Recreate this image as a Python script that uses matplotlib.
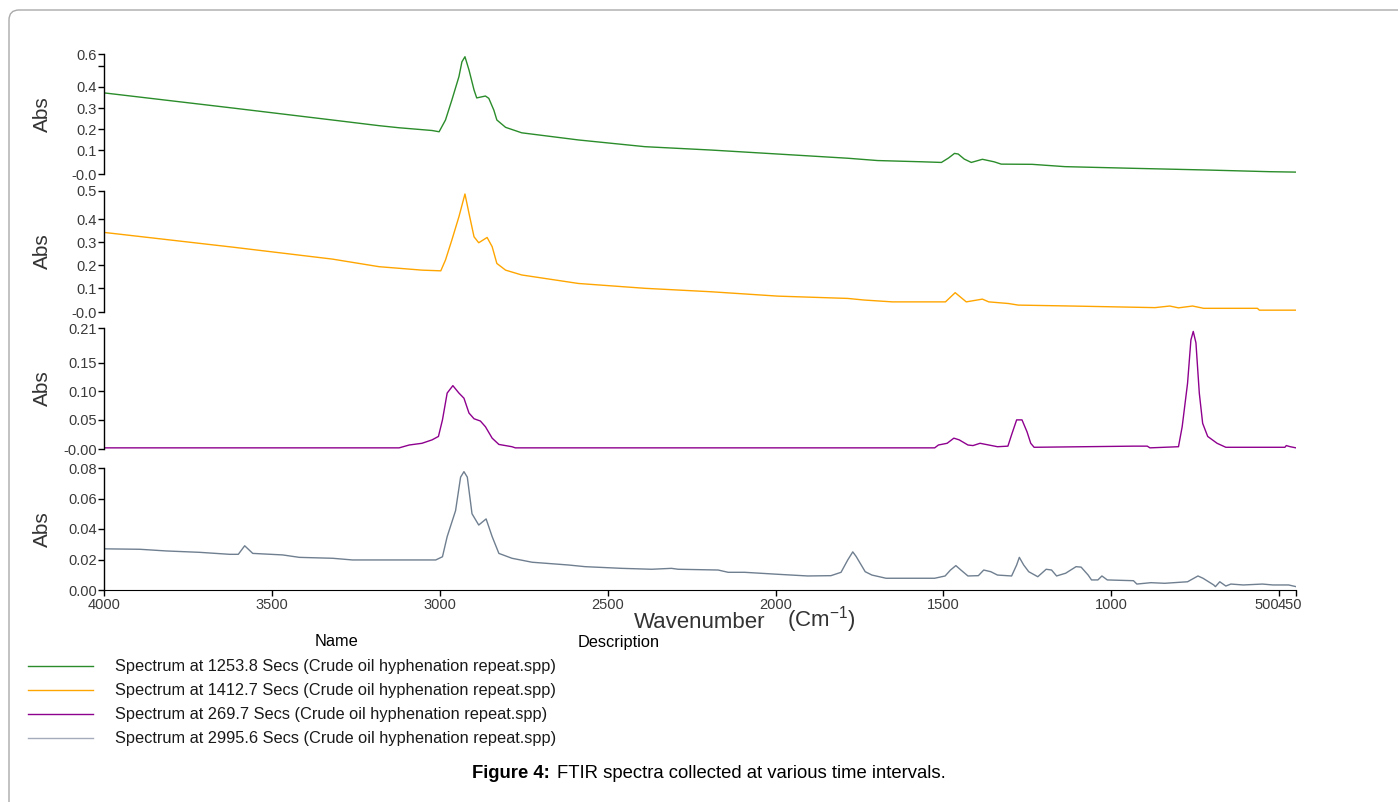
import matplotlib
matplotlib.use('Agg')
import matplotlib.pyplot as plt
from matplotlib import font_manager
from matplotlib.lines import Line2D
from matplotlib.patches import FancyBboxPatch
from matplotlib.transforms import IdentityTransform, ScaledTranslation

W, H = 1398, 802

# spectra (wavenumber in cm-1, absorbance)
wn_1253 = [4000, 3617, 3320, 3181, 3121, 3023, 3002, 2983, 2964, 2943, 2934, 2925,
           2913, 2898, 2890, 2864, 2854, 2839, 2830, 2804, 2756, 2587, 2389, 2192,
           1993, 1785, 1696, 1562, 1506, 1485, 1467, 1456, 1438, 1417, 1384, 1349,
           1328, 1236, 1138, 933, 716, 529, 450]
abs_1253 = [0.372, 0.300, 0.243, 0.216, 0.206, 0.193, 0.187, 0.243, 0.338, 0.449, 0.520, 0.544,
            0.481, 0.386, 0.348, 0.357, 0.346, 0.290, 0.243, 0.208, 0.182, 0.148, 0.116, 0.100,
            0.081, 0.061, 0.050, 0.044, 0.041, 0.062, 0.084, 0.081, 0.057, 0.041, 0.056, 0.044,
            0.033, 0.032, 0.021, 0.013, 0.005, -0.003, -0.005]

wn_1412 = [4000, 3617, 3320, 3181, 3053, 2997, 2983, 2964, 2943, 2925, 2913, 2898,
           2884, 2859, 2844, 2830, 2804, 2756, 2587, 2389, 2192, 1993, 1785, 1736,
           1652, 1494, 1465, 1432, 1384, 1365, 1307, 1277, 1120, 870, 826, 800,
           758, 725, 565, 559, 450]
abs_1412 = [0.342, 0.278, 0.226, 0.193, 0.178, 0.175, 0.222, 0.309, 0.410, 0.509, 0.425, 0.323,
            0.297, 0.320, 0.280, 0.207, 0.178, 0.157, 0.120, 0.099, 0.084, 0.065, 0.055, 0.048,
            0.040, 0.040, 0.080, 0.040, 0.052, 0.040, 0.033, 0.026, 0.022, 0.015, 0.022, 0.014,
            0.022, 0.012, 0.012, 0.004, 0.004]

wn_269 = [4000, 3121, 3091, 3053, 3023, 3004, 2992, 2978, 2961, 2943, 2928, 2913,
          2898, 2879, 2864, 2844, 2824, 2785, 2775, 1526, 1515, 1489, 1469, 1453,
          1427, 1412, 1391, 1365, 1339, 1308, 1297, 1282, 1266, 1251, 1240, 1230,
          934, 893, 885, 800, 789, 773, 763, 756, 748, 738, 728, 713,
          685, 659, 483, 479, 467, 450]
abs_269 = [0.001, 0.001, 0.006, 0.009, 0.015, 0.021, 0.050, 0.097, 0.110, 0.097, 0.088, 0.062,
           0.052, 0.048, 0.038, 0.018, 0.007, 0.003, 0.001, 0.001, 0.006, 0.009, 0.018, 0.015,
           0.006, 0.005, 0.009, 0.006, 0.003, 0.004, 0.024, 0.050, 0.050, 0.029, 0.009, 0.002,
           0.004, 0.004, 0.001, 0.003, 0.038, 0.114, 0.190, 0.205, 0.185, 0.097, 0.044, 0.021,
           0.009, 0.002, 0.002, 0.005, 0.003, 0.001]

wn_2995 = [4000, 3893, 3814, 3715, 3626, 3600, 3581, 3557, 3468, 3418, 3319, 3260,
           3012, 2992, 2978, 2953, 2938, 2928, 2918, 2904, 2884, 2862, 2844, 2824,
           2785, 2725, 2617, 2567, 2458, 2369, 2310, 2290, 2171, 2141, 2092, 1993,
           1904, 1835, 1805, 1785, 1770, 1760, 1733, 1713, 1671, 1526, 1495, 1479,
           1463, 1448, 1427, 1396, 1380, 1359, 1339, 1297, 1282, 1274, 1261, 1246,
           1219, 1194, 1178, 1163, 1136, 1105, 1090, 1069, 1059, 1040, 1028, 1012,
           934, 924, 882, 841, 773, 742, 727, 695, 690, 677, 659, 644,
           607, 550, 519, 472, 450]
abs_2995 = [0.0270, 0.0267, 0.0256, 0.0247, 0.0234, 0.0234, 0.0290, 0.0240, 0.0230, 0.0214, 0.0208, 0.0197,
            0.0197, 0.0218, 0.0350, 0.0520, 0.0740, 0.0776, 0.0740, 0.0500, 0.0426, 0.0466, 0.0350, 0.0240,
            0.0208, 0.0182, 0.0164, 0.0153, 0.0142, 0.0136, 0.0142, 0.0136, 0.0131, 0.0116, 0.0116, 0.0103,
            0.0092, 0.0094, 0.0116, 0.0197, 0.0250, 0.0220, 0.0120, 0.0098, 0.0077, 0.0077, 0.0092, 0.0131,
            0.0160, 0.0131, 0.0092, 0.0094, 0.0131, 0.0120, 0.0098, 0.0092, 0.0164, 0.0214, 0.0164, 0.0120,
            0.0087, 0.0136, 0.0131, 0.0092, 0.0110, 0.0153, 0.0150, 0.0098, 0.0066, 0.0066, 0.0092, 0.0066,
            0.0061, 0.0039, 0.0048, 0.0044, 0.0054, 0.0092, 0.0077, 0.0033, 0.0022, 0.0054, 0.0026, 0.0039,
            0.0033, 0.0039, 0.0033, 0.0033, 0.0022]

names = ['Spectrum at 1253.8 Secs (Crude oil hyphenation repeat.spp)',
         'Spectrum at 1412.7 Secs (Crude oil hyphenation repeat.spp)',
         'Spectrum at 269.7 Secs (Crude oil hyphenation repeat.spp)',
         'Spectrum at 2995.6 Secs (Crude oil hyphenation repeat.spp)']
colors = ['#2a8c2a', '#ffa500', '#8e008e', '#6f7f90']
legend_colors = ['#2a8c2a', '#ffa500', '#8e008e', '#a4acbc']
spectra = [(wn_1253, abs_1253), (wn_1412, abs_1412), (wn_269, abs_269), (wn_2995, abs_2995)]

ylims = [(-0.014, 0.557), (-0.004, 0.522), (-0.001, 0.211), (0.0, 0.08)]
yticks = [[-0.014, 0.1, 0.2, 0.3, 0.4, 0.5, 0.557],
          [-0.004, 0.1, 0.2, 0.3, 0.4, 0.522],
          [-0.001, 0.05, 0.10, 0.15, 0.211],
          [0.0, 0.02, 0.04, 0.06, 0.08]]
ylabels = [['-0.0', '0.1', '0.2', '0.3', '0.4', '', '0.6'],
           ['-0.0', '0.1', '0.2', '0.3', '0.4', '0.5'],
           ['-0.00', '0.05', '0.10', '0.15', '0.21'],
           ['0.00', '0.02', '0.04', '0.06', '0.08']]
xticks = [4000, 3500, 3000, 2500, 2000, 1500, 1000, 500, 450]

installed = {f.name for f in font_manager.fontManager.ttflist}
narrow = 'Liberation Sans Narrow' in installed

plt.rcParams['font.family'] = ['Liberation Sans', 'DejaVu Sans']
plt.rcParams['mathtext.default'] = 'regular'

fig = plt.figure(figsize=(W / 100, H / 100), dpi=100)

# panel extents in pixels (top, bottom)
rows = [(54, 174), (191, 312), (328, 449), (468, 590)]
x0, x1 = 104, 1296

for i, ((top, bot), (wn, ab)) in enumerate(zip(rows, spectra)):
    ax = fig.add_axes([x0 / W, 1 - bot / H, (x1 - x0) / W, (bot - top) / H])
    ax.plot(wn, ab, color=colors[i], lw=1.0)
    ax.set_xlim(4000, 450)
    ax.set_ylim(*ylims[i])
    ax.set_yticks(yticks[i])
    ax.set_yticklabels(ylabels[i])
    ax.patch.set_alpha(0)
    for s in ['top', 'right']:
        ax.spines[s].set_visible(False)
    ax.spines['left'].set_linewidth(1.0)
    ax.tick_params(axis='y', direction='out', length=4, width=1,
                   labelsize=10.5, labelcolor='#3a3a3a', pad=1)
    if i < 3:
        ax.spines['bottom'].set_visible(False)
        ax.set_xticks([])
    else:
        ax.set_xticks(xticks)
        ax.set_xticklabels([str(t) for t in xticks])
        ax.tick_params(axis='x', direction='out', length=4, width=1,
                       labelsize=10.5, labelcolor='#3a3a3a', pad=2)
        labs = ax.get_xticklabels()
        labs[-2].set_transform(labs[-2].get_transform() + ScaledTranslation(-0.12, 0, fig.dpi_scale_trans))
        labs[-1].set_transform(labs[-1].get_transform() + ScaledTranslation(-0.06, 0, fig.dpi_scale_trans))
    fig.text(42 / W, 1 - (top + bot) / 2 / H, 'Abs', rotation=90, ha='center', va='center',
             fontsize=15, color='#333333')

fig.text(700 / W, 1 - 623 / H, 'Wavenumber', ha='center', va='center', fontsize=16, color='#333333')
fig.text(787 / W, 1 - 620 / H, '(Cm$^{-1}$)', ha='left', va='center', fontsize=16, color='#333333')

# legend block
lfam = ['Liberation Sans Narrow', 'Liberation Sans'] if narrow else ['Liberation Sans']
lsize = 14 if narrow else 11.8
fig.text(337 / W, 1 - 642 / H, 'Name', ha='center', va='center', fontsize=lsize, family=lfam)
fig.text(619 / W, 1 - 642 / H, 'Description', ha='center', va='center', fontsize=lsize, family=lfam)
for i, name in enumerate(names):
    y = 1 - (666 + 24 * i) / H
    fig.add_artist(Line2D([28 / W, 93 / W], [y, y], color=legend_colors[i], lw=1.0))
    fig.text(115 / W, y, name, ha='left', va='center', fontsize=lsize, family=lfam, color='#1a1a1a')

# caption
fig.text(472 / W, 1 - 773 / H, 'Figure 4:', ha='left', va='center', fontsize=13.3, weight='bold')
fig.text(557 / W, 1 - 773 / H, 'FTIR spectra collected at various time intervals.',
         ha='left', va='center', fontsize=13.3)

# rounded page frame
frame = FancyBboxPatch((9, -30), 1500, 822, boxstyle='round,pad=0,rounding_size=10',
                       transform=IdentityTransform(), fill=False, ec='#aaaaaa', lw=1)
fig.add_artist(frame)

fig.savefig('out.png', dpi=100)
